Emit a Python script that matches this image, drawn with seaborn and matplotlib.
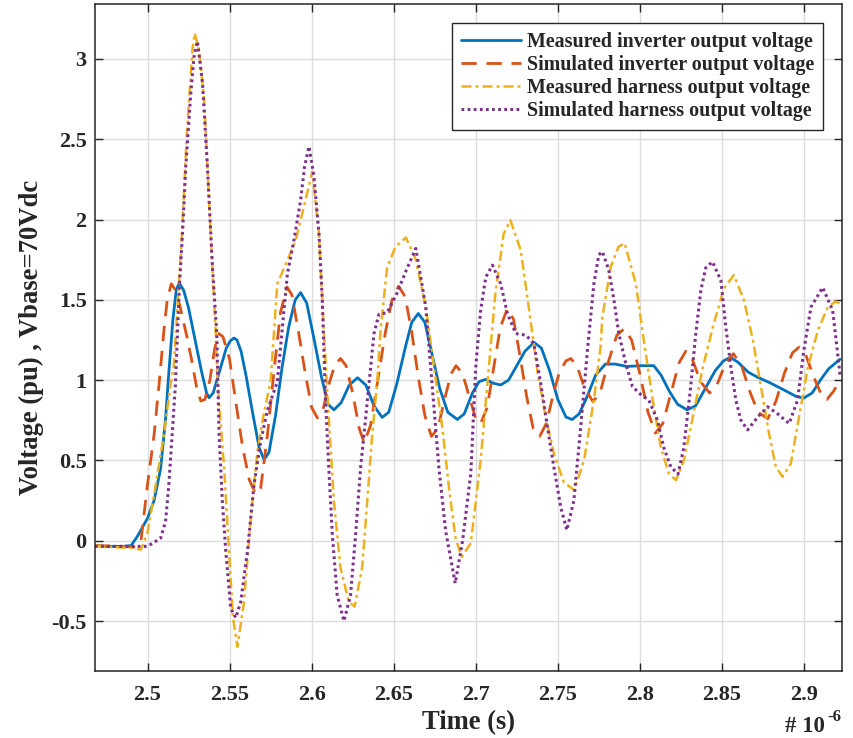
import numpy as np
import pandas as pd
import matplotlib
matplotlib.use("Agg")
import matplotlib.pyplot as plt
import seaborn as sns

# time axis in units of 1e-6 s
t_meas_inv = [2.468, 2.475, 2.485, 2.490, 2.494, 2.500, 2.504, 2.508, 2.511, 2.513, 2.5155, 2.5175, 2.5193,
              2.522, 2.525, 2.529, 2.533, 2.536, 2.5375, 2.540, 2.544, 2.548, 2.5505, 2.5527, 2.5545, 2.557,
              2.560, 2.564, 2.568, 2.571, 2.574, 2.578, 2.582, 2.586, 2.590, 2.5933, 2.597, 2.601, 2.606,
              2.610, 2.6136, 2.618, 2.623, 2.628, 2.633, 2.638, 2.643, 2.647, 2.652, 2.657, 2.661, 2.665,
              2.669, 2.673, 2.678, 2.683, 2.6888, 2.693, 2.698, 2.702, 2.706, 2.711, 2.7152, 2.720, 2.725,
              2.730, 2.7355, 2.740, 2.745, 2.750, 2.755, 2.7588, 2.763, 2.768, 2.773, 2.779, 2.785, 2.7923,
              2.800, 2.8085, 2.813, 2.818, 2.823, 2.8288, 2.834, 2.840, 2.846, 2.851, 2.8552, 2.860, 2.866,
              2.8714, 2.880, 2.8876, 2.895, 2.8998, 2.905, 2.910, 2.915, 2.922]
v_meas_inv = [-0.03, -0.035, -0.035, -0.03, 0.03, 0.14, 0.25, 0.45, 0.76, 1.05, 1.38, 1.56, 1.605,
              1.56, 1.45, 1.25, 1.05, 0.92, 0.89, 0.92, 1.06, 1.20, 1.245, 1.262, 1.25, 1.18,
              1.03, 0.80, 0.58, 0.505, 0.55, 0.78, 1.08, 1.33, 1.50, 1.545, 1.48, 1.28, 1.02,
              0.85, 0.815, 0.86, 0.97, 1.015, 0.97, 0.84, 0.768, 0.80, 0.98, 1.20, 1.36, 1.415,
              1.36, 1.18, 0.95, 0.80, 0.755, 0.79, 0.92, 0.99, 1.005, 0.98, 0.97, 1.00, 1.09,
              1.18, 1.235, 1.20, 1.06, 0.88, 0.77, 0.755, 0.79, 0.90, 1.03, 1.10, 1.10, 1.085,
              1.09, 1.09, 1.03, 0.93, 0.85, 0.815, 0.84, 0.95, 1.06, 1.12, 1.142, 1.11, 1.05,
              1.02, 0.98, 0.94, 0.90, 0.888, 0.92, 1.00, 1.07, 1.13]

t_sim_inv = [2.468, 2.485, 2.493, 2.496, 2.500, 2.504, 2.507, 2.510, 2.512, 2.5145, 2.517, 2.520, 2.524,
             2.527, 2.530, 2.5325, 2.535, 2.538, 2.541, 2.5435, 2.546, 2.550, 2.554, 2.558, 2.562, 2.566,
             2.569, 2.573, 2.577, 2.581, 2.585, 2.588, 2.592, 2.596, 2.600, 2.6035, 2.607, 2.611, 2.614,
             2.6176, 2.621, 2.625, 2.629, 2.632, 2.636, 2.640, 2.645, 2.649, 2.653, 2.657, 2.661, 2.665,
             2.669, 2.673, 2.677, 2.681, 2.685, 2.688, 2.692, 2.696, 2.700, 2.703, 2.707, 2.711, 2.715,
             2.7193, 2.723, 2.727, 2.731, 2.735, 2.739, 2.743, 2.747, 2.751, 2.755, 2.758, 2.762, 2.766,
             2.7715, 2.776, 2.781, 2.786, 2.7905, 2.795, 2.800, 2.805, 2.8095, 2.814, 2.819, 2.824, 2.828,
             2.832, 2.837, 2.8425, 2.847, 2.852, 2.857, 2.862, 2.867, 2.872, 2.878, 2.883, 2.888, 2.893,
             2.897, 2.901, 2.906, 2.911, 2.914, 2.918, 2.922]
v_sim_inv = [-0.03, -0.035, -0.04, 0.0, 0.35, 0.66, 0.97, 1.31, 1.50, 1.60, 1.56, 1.45, 1.27,
             1.12, 0.95, 0.87, 0.88, 1.00, 1.20, 1.29, 1.27, 1.13, 0.85, 0.58, 0.38, 0.29,
             0.33, 0.65, 1.05, 1.42, 1.58, 1.53, 1.30, 1.05, 0.83, 0.765, 0.82, 0.99, 1.09,
             1.135, 1.09, 0.92, 0.70, 0.61, 0.72, 0.98, 1.30, 1.50, 1.585, 1.52, 1.30, 1.02,
             0.78, 0.65, 0.70, 0.88, 1.04, 1.09, 1.04, 0.90, 0.76, 0.73, 0.83, 1.08, 1.33,
             1.445, 1.38, 1.15, 0.90, 0.70, 0.65, 0.73, 0.90, 1.05, 1.12, 1.135, 1.08, 0.96,
             0.865, 0.93, 1.12, 1.28, 1.32, 1.25, 1.04, 0.80, 0.67, 0.73, 0.92, 1.11, 1.18,
             1.13, 0.99, 0.92, 0.97, 1.10, 1.165, 1.09, 0.93, 0.80, 0.76, 0.87, 1.04, 1.17,
             1.205, 1.16, 1.02, 0.90, 0.88, 0.93, 1.00]

t_meas_har = [2.468, 2.480, 2.490, 2.496, 2.500, 2.504, 2.510, 2.514, 2.516, 2.521, 2.524, 2.5274, 2.5288,
              2.5315, 2.5345, 2.5385, 2.5416, 2.5426, 2.5467, 2.5497, 2.5521, 2.5548, 2.5588, 2.5629,
              2.567, 2.571, 2.575, 2.5791, 2.5852, 2.5903, 2.5953, 2.6004, 2.6045, 2.6075, 2.6105, 2.6136,
              2.6176, 2.6227, 2.6262, 2.6308, 2.6339, 2.6369, 2.640, 2.642, 2.646, 2.6511, 2.6575, 2.6635,
              2.6695, 2.6746, 2.6797, 2.6838, 2.6878, 2.6915, 2.697, 2.703, 2.708, 2.712, 2.717, 2.7211,
              2.7274, 2.7323, 2.7378, 2.7427, 2.7476, 2.7537, 2.760, 2.766, 2.772, 2.776, 2.7772, 2.7823,
              2.787, 2.7907, 2.7976, 2.8024, 2.8079, 2.8128, 2.8177, 2.822, 2.8268, 2.8323, 2.8384, 2.8445,
              2.8512, 2.8573, 2.8634, 2.8689, 2.8738, 2.8787, 2.8829, 2.887, 2.892, 2.897, 2.9024, 2.9085,
              2.9146, 2.9195, 2.922]
v_meas_har = [-0.03, -0.04, -0.045, -0.055, 0.05, 0.286, 0.66, 0.97, 1.08, 1.91, 2.54, 3.06, 3.16,
              3.05, 2.75, 1.91, 1.29, 1.00, 0.45, -0.07, -0.48, -0.66, -0.38, 0.14,
              0.56, 0.80, 0.99, 1.60, 1.745, 1.87, 2.08, 2.298, 1.91, 1.29, 0.76, 0.245,
              -0.17, -0.38, -0.41, -0.17, 0.245, 0.66, 0.99, 1.31, 1.70, 1.83, 1.888, 1.75,
              1.46, 1.08, 0.70, 0.32, 0.01, -0.10, -0.015, 0.50, 1.08, 1.54, 1.91, 1.996,
              1.81, 1.455, 1.04, 0.77, 0.545, 0.365, 0.315, 0.50, 0.875, 1.20, 1.394, 1.705,
              1.83, 1.853, 1.60, 1.25, 0.875, 0.58, 0.42, 0.377, 0.50, 0.77, 1.08, 1.33,
              1.57, 1.654, 1.50, 1.25, 0.96, 0.67, 0.46, 0.398, 0.48, 0.77, 1.08, 1.31,
              1.455, 1.49, 1.475]

t_sim_har = [2.468, 2.485, 2.500, 2.508, 2.511, 2.513, 2.515, 2.517, 2.5193, 2.5213, 2.5233, 2.5264, 2.5284,
             2.5304, 2.5335, 2.5365, 2.5396, 2.5422, 2.5436, 2.5456, 2.5477, 2.5507, 2.5538, 2.5568, 2.5609,
             2.5649, 2.569, 2.573, 2.5791, 2.5852, 2.5892, 2.5933, 2.5957, 2.5984, 2.6014, 2.6045, 2.6065,
             2.6085, 2.6105, 2.6126, 2.6156, 2.6197, 2.6237, 2.6268, 2.6298, 2.6329, 2.6349, 2.638, 2.641,
             2.646, 2.652, 2.6575, 2.6635, 2.6695, 2.6736, 2.6776, 2.6817, 2.6875, 2.692, 2.697, 2.700,
             2.703, 2.7061, 2.7102, 2.7152, 2.7193, 2.7244, 2.7305, 2.7354, 2.7396, 2.7437, 2.7476, 2.7518,
             2.7555, 2.7598, 2.764, 2.7681, 2.772, 2.775, 2.7772, 2.7811, 2.7842, 2.7872, 2.7915, 2.7955,
             2.8006, 2.8055, 2.8108, 2.8146, 2.8189, 2.8233, 2.8268, 2.831, 2.8341, 2.8372, 2.8402, 2.8443,
             2.8494, 2.8524, 2.8555, 2.8585, 2.8616, 2.8657, 2.8718, 2.8779, 2.884, 2.891, 2.8961, 2.900,
             2.9043, 2.9114, 2.9175, 2.9205, 2.922]
v_sim_har = [-0.035, -0.035, -0.035, 0.016, 0.12, 0.35, 0.66, 0.97, 1.56, 1.91, 2.33, 2.79, 3.02,
             3.11, 2.85, 2.33, 1.70, 1.29, 0.66, 0.245, -0.066, -0.42, -0.48, -0.38, -0.066,
             0.35, 0.62, 0.81, 0.99, 1.66, 1.87, 2.12, 2.33, 2.455, 2.27, 1.91, 1.50,
             0.87, 0.45, 0.037, -0.34, -0.50, -0.34, 0.037, 0.45, 0.76, 0.97, 1.29, 1.41,
             1.42, 1.54, 1.68, 1.82, 1.46, 0.95, 0.45, 0.06, -0.265, 0.0, 0.42, 1.08,
             1.435, 1.64, 1.716, 1.60, 1.415, 1.29, 1.28, 1.23, 0.98, 0.71, 0.46, 0.21,
             0.066, 0.25, 0.71, 1.19, 1.60, 1.78, 1.80, 1.685, 1.50, 1.29, 1.10, 0.96,
             0.91, 0.875, 0.75, 0.58, 0.46, 0.415, 0.58, 0.96, 1.29, 1.56, 1.70, 1.737,
             1.62, 1.33, 1.08, 0.875, 0.75, 0.69, 0.77, 0.834, 0.79, 0.73, 0.875, 1.19,
             1.455, 1.577, 1.435, 1.17, 1.03]

series_names = ["Measured inverter output voltage", "Simulated inverter output voltage",
                "Measured harness output voltage", "Simulated harness output voltage"]
x_ticks = [2.5, 2.55, 2.6, 2.65, 2.7, 2.75, 2.8, 2.85, 2.9]
x_ticklabels = ["2.5", "2.55", "2.6", "2.65", "2.7", "2.75", "2.8", "2.85", "2.9"]
y_ticks = [-0.5, 0, 0.5, 1, 1.5, 2, 2.5, 3]
y_ticklabels = ["-0.5", "0", "0.5", "1", "1.5", "2", "2.5", "3"]

sns.set_style("ticks")
plt.rcParams["font.family"] = ["Liberation Serif", "DejaVu Serif"]
plt.rcParams["font.weight"] = "bold"
plt.rcParams["axes.unicode_minus"] = False

colors = ["#0072BD", "#D95319", "#EDB120", "#7E2F8E"]
styles = ["-", (0, (5.5, 3.5)), (0, (4, 1.6, 1.2, 1.6)), (0, (0.9, 1.1))]
widths = [2.0, 2.0, 1.8, 2.2]
dark = "#262626"

fig = plt.figure(figsize=(8.54, 7.38), dpi=100)
ax = fig.add_axes([95 / 854, 1 - 671 / 738, 747 / 854, 667 / 738])

data = [(t_meas_inv, v_meas_inv), (t_sim_inv, v_sim_inv), (t_meas_har, v_meas_har), (t_sim_har, v_sim_har)]
for (t, v), name, c, ls, lw in zip(data, series_names, colors, styles, widths):
    df = pd.DataFrame({"t": t, "v": v})
    sns.lineplot(data=df, x="t", y="v", ax=ax, color=c, linestyle=ls, linewidth=lw,
                 label=name, estimator=None, sort=False)

ax.set_xlim(2.468, 2.9232)
ax.set_ylim(-0.811, 3.342)
ax.set_xticks(x_ticks)
ax.set_xticklabels(x_ticklabels)
ax.set_yticks(y_ticks)
ax.set_yticklabels(y_ticklabels)
ax.grid(True, color="#dcdcdc", linewidth=1.0)
ax.set_axisbelow(True)
ax.tick_params(direction="in", length=5.5, width=1.0, top=True, right=True,
               labelsize=16, pad=6, colors=dark)
ax.tick_params(axis="x", pad=10)
for lab in ax.get_xticklabels() + ax.get_yticklabels():
    lab.set_fontweight("bold")
for sp in ax.spines.values():
    sp.set_color(dark)
    sp.set_linewidth(1.1)

ax.set_xlabel("Time (s)", fontsize=19.2, fontweight="bold", color=dark, labelpad=4)
ax.set_ylabel("Voltage (pu) , Vbase=70Vdc", fontsize=19.2, fontweight="bold", color=dark, labelpad=5)

# MATLAB style exponent label below the right end of the x axis
fig.text(825 / 854, 1 - 732 / 738, "# 10", ha="right", va="baseline", fontsize=16.5,
         fontweight="bold", color=dark)
fig.text(827 / 854, 1 - 721 / 738, "-6", ha="left", va="baseline", fontsize=12,
         fontweight="bold", color=dark)

leg = ax.legend(loc="upper right", bbox_to_anchor=((823 - 95) / 747, 1 - 19 / 667), borderaxespad=0,
                fontsize=14.4, frameon=True, fancybox=False, handlelength=3.0, handletextpad=0.3,
                labelspacing=0.15, borderpad=0.45)
leg.get_frame().set_edgecolor(dark)
leg.get_frame().set_linewidth(1.0)
leg.get_frame().set_alpha(1.0)
for txt in leg.get_texts():
    txt.set_fontweight("bold")

fig.savefig("out.png", dpi=100)
